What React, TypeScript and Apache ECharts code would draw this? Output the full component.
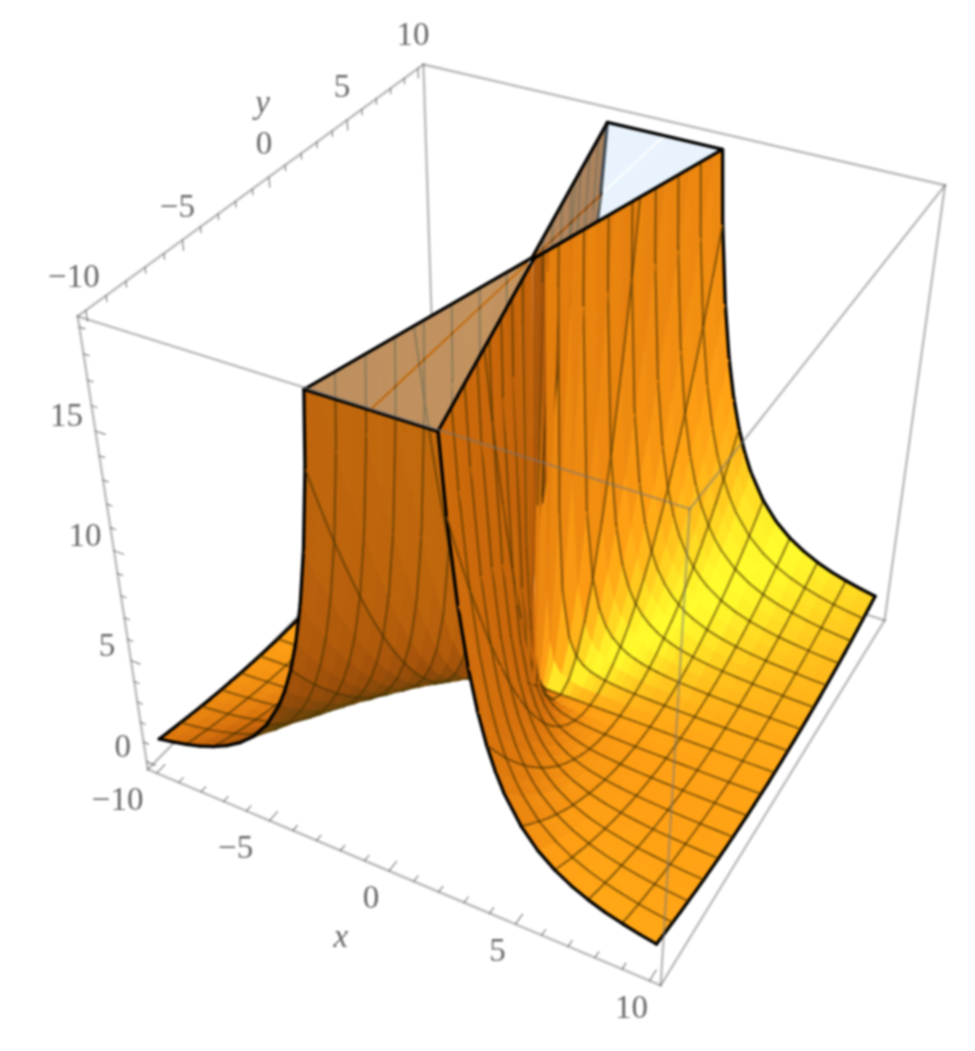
import React, { useEffect, useRef } from "react";
import * as echarts from "echarts";

// ---- data ----
const xNodes = [0.08, 0.15, 0.3, 0.45, 0.625, 0.9375, 1.25, 1.5625, 1.875, 2.1875, 2.5, 2.8125, 3.125, 3.4375, 3.75, 4.0625, 4.375, 5, 5.625, 6.25, 6.875, 7.5, 8.125, 8.75, 9.375, 10];
const yNodes = [0, 0.625, 1.25, 1.875, 2.5, 3.125, 3.75, 4.375, 5, 5.625, 6.25, 6.875, 7.5, 8.125, 8.75, 9.375, 10];
const zRows = [
  [0, 0, 0, 0, 0, 0, 0, 0, 0, 0, 0, 0, 0, 0, 0, 0, 0, 0, 0, 0, 0, 0, 0, 0, 0, 0],
  [61, 17.36, 4.34, 1.93, 1, 0.44, 0.25, 0.16, 0.11, 0.08, 0.06, 0.05, 0.04, 0.03, 0.03, 0.02, 0.02, 0.02, 0.01, 0.01, 0.01, 0.01, 0.01, 0.01, 0, 0],
  [244, 69.4, 17.36, 7.72, 4, 1.78, 1, 0.64, 0.44, 0.33, 0.25, 0.2, 0.16, 0.13, 0.11, 0.09, 0.08, 0.06, 0.05, 0.04, 0.03, 0.03, 0.02, 0.02, 0.02, 0.02],
  [549, 156, 39.1, 17.36, 9, 4, 2.25, 1.44, 1, 0.73, 0.56, 0.44, 0.36, 0.3, 0.25, 0.21, 0.18, 0.14, 0.11, 0.09, 0.07, 0.06, 0.05, 0.05, 0.04, 0.04],
  [977, 278, 69.4, 30.9, 16, 7.11, 4, 2.56, 1.78, 1.31, 1, 0.79, 0.64, 0.53, 0.44, 0.38, 0.33, 0.25, 0.2, 0.16, 0.13, 0.11, 0.09, 0.08, 0.07, 0.06],
  [1526, 434, 108.5, 48.2, 25, 11.1, 6.25, 4, 2.78, 2.04, 1.56, 1.23, 1, 0.83, 0.69, 0.59, 0.51, 0.39, 0.31, 0.25, 0.21, 0.17, 0.15, 0.13, 0.11, 0.1],
  [2197, 625, 156, 69.4, 36, 16, 9, 5.76, 4, 2.94, 2.25, 1.78, 1.44, 1.19, 1, 0.85, 0.73, 0.56, 0.44, 0.36, 0.3, 0.25, 0.21, 0.18, 0.16, 0.14],
  [2990, 851, 213, 94.5, 49, 21.8, 12.25, 7.84, 5.44, 4, 3.06, 2.42, 1.96, 1.62, 1.36, 1.16, 1, 0.77, 0.6, 0.49, 0.4, 0.34, 0.29, 0.25, 0.22, 0.19],
  [3906, 1111, 278, 123, 64, 28.4, 16, 10.24, 7.11, 5.22, 4, 3.16, 2.56, 2.12, 1.78, 1.51, 1.31, 1, 0.79, 0.64, 0.53, 0.44, 0.38, 0.33, 0.28, 0.25],
  [4944, 1406, 352, 156, 81, 36, 20.25, 12.96, 9, 6.61, 5.06, 4, 3.24, 2.68, 2.25, 1.92, 1.65, 1.27, 1, 0.81, 0.67, 0.56, 0.48, 0.41, 0.36, 0.32],
  [6104, 1736, 434, 193, 100, 44.4, 25, 16, 11.1, 8.16, 6.25, 4.94, 4, 3.3, 2.78, 2.37, 2.04, 1.56, 1.23, 1, 0.83, 0.69, 0.59, 0.51, 0.44, 0.39],
  [7385, 2101, 525, 233, 121, 53.8, 30.25, 19.36, 13.44, 9.88, 7.56, 5.97, 4.84, 4, 3.36, 2.86, 2.47, 1.89, 1.49, 1.21, 1, 0.84, 0.72, 0.62, 0.54, 0.47],
  [8789, 2500, 625, 278, 144, 64, 36, 23.04, 16, 11.76, 9, 7.11, 5.76, 4.76, 4, 3.41, 2.94, 2.25, 1.78, 1.44, 1.19, 1, 0.85, 0.73, 0.64, 0.56],
  [10315, 2934, 734, 326, 169, 75.1, 42.25, 27.04, 18.78, 13.8, 10.56, 8.35, 6.76, 5.59, 4.69, 4, 3.45, 2.64, 2.09, 1.69, 1.4, 1.17, 1, 0.86, 0.75, 0.66],
  [11963, 3403, 851, 378, 196, 87.1, 49, 31.36, 21.78, 16, 12.25, 9.68, 7.84, 6.48, 5.44, 4.64, 4, 3.06, 2.42, 1.96, 1.62, 1.36, 1.16, 1, 0.87, 0.77],
  [13733, 3906, 977, 434, 225, 100, 56.25, 36, 25, 18.37, 14.06, 11.11, 9, 7.44, 6.25, 5.33, 4.59, 3.52, 2.78, 2.25, 1.86, 1.56, 1.33, 1.15, 1, 0.88],
  [15625, 4444, 1111, 494, 256, 113.8, 64, 40.96, 28.44, 20.9, 16, 12.64, 10.24, 8.46, 7.11, 6.06, 5.22, 4, 3.16, 2.56, 2.12, 1.78, 1.51, 1.31, 1.14, 1],
];
const meshStep = 1.25;
const zClip = 19;
const plateauHalfWidth = 2.3;
const xLabels = [-10, -5, 0, 5, 10];
const yLabels = [-10, -5, 0, 5, 10];
const zLabels = [0, 5, 10, 15];
const xyMinorTicks = [-10, -9, -8, -7, -6, -5, -4, -3, -2, -1, 0, 1, 2, 3, 4, 5, 6, 7, 8, 9, 10];
const zMinorTicks = [0, 1, 2, 3, 4, 5, 6, 7, 8, 9, 10, 11, 12, 13, 14, 15, 16, 17, 18, 19];

// box range and where its corners fall on the page
const RX: [number, number] = [-10.4, 10.4];
const RZ: [number, number] = [-0.4, 19.4];
const corners: [number, number, number, number, number][] = [
  [0, 0, 0, 148, 770],
  [1, 0, 0, 660, 985],
  [1, 1, 0, 885, 620],
  [0, 0, 1, 78, 315],
  [0, 1, 1, 423, 65],
  [1, 0, 1, 690, 510],
  [1, 1, 1, 945, 185],
];

function solveCamera(): number[] {
  const rowsA: number[][] = [];
  const rhs: number[] = [];
  for (const [u, v, t, px, py] of corners) {
    rowsA.push([u, v, t, 1, 0, 0, 0, 0, -px * u, -px * v, -px * t]);
    rhs.push(px);
    rowsA.push([0, 0, 0, 0, u, v, t, 1, -py * u, -py * v, -py * t]);
    rhs.push(py);
  }
  const n = 11;
  const M: number[][] = [];
  for (let i = 0; i < n; i++) {
    const r = new Array(n + 1).fill(0);
    for (let k = 0; k < rowsA.length; k++) {
      for (let j = 0; j < n; j++) r[j] += rowsA[k][i] * rowsA[k][j];
      r[n] += rowsA[k][i] * rhs[k];
    }
    M.push(r);
  }
  for (let i = 0; i < n; i++) {
    let best = i;
    for (let k = i + 1; k < n; k++) if (Math.abs(M[k][i]) > Math.abs(M[best][i])) best = k;
    [M[i], M[best]] = [M[best], M[i]];
    for (let k = 0; k < n; k++) {
      if (k === i) continue;
      const f = M[k][i] / M[i][i];
      for (let j = i; j <= n; j++) M[k][j] -= f * M[i][j];
    }
  }
  return M.map((r, i) => r[n] / r[i]);
}
const cam = solveCamera();

type P3 = [number, number, number];
function project(p: P3): [number, number, number] {
  const u = (p[0] - RX[0]) / (RX[1] - RX[0]);
  const v = (p[1] - RX[0]) / (RX[1] - RX[0]);
  const t = (p[2] - RZ[0]) / (RZ[1] - RZ[0]);
  const w = cam[8] * u + cam[9] * v + cam[10] * t + 1;
  return [
    (cam[0] * u + cam[1] * v + cam[2] * t + cam[3]) / w,
    (cam[4] * u + cam[5] * v + cam[6] * t + cam[7]) / w,
    w,
  ];
}

// view frame of the box (scaled box coordinates)
const vR: P3 = [0.887, 0.46, 0.019];
const vU: P3 = [-0.27, 0.49, 0.82];
const vF: P3 = [0.37, -0.74, 0.56];
const H: P3 = [0.3, 0.3, 0.9];
const dot = (a: P3, b: P3) => a[0] * b[0] + a[1] * b[1] + a[2] * b[2];
const toS = (p: P3): P3 => [p[0] / 20.8, p[1] / 20.8, (p[2] * 0.86) / 19.8];

function shade(ns: P3[]): string {
  let n: P3 = [0, 0, 0];
  for (const m of ns) n = [n[0] + m[0], n[1] + m[1], n[2] + m[2]];
  const len = Math.hypot(n[0], n[1], n[2]) || 1;
  n = [n[0] / len, n[1] / len, n[2] / len];
  let under = 1;
  if (dot(n, vF) < 0) {
    n = [-n[0], -n[1], -n[2]];
    under = 0.88;
  }
  const nv: P3 = [dot(n, vR), dot(n, vU), dot(n, vF)];
  const s = Math.max(0, dot(nv, H));
  const R = 255 * under * Math.min(1, 0.45 + 0.75 * s);
  const G = 255 * under * (0.31 + 0.69 * Math.pow(s, 2.5));
  const Bl = 255 * (0.04 + 0.14 * Math.pow(s, 4));
  return `rgb(${R | 0},${G | 0},${Bl | 0})`;
}

type Seg = { a: P3; b: P3; bound: boolean };
type Poly = { pts: P3[]; fill: string; segs: Seg[]; w: number };

function lerp(a: P3, b: P3): P3 {
  const k = (zClip - a[2]) / (b[2] - a[2]);
  return [a[0] + (b[0] - a[0]) * k, a[1] + (b[1] - a[1]) * k, zClip];
}
function clipPoly(pts: P3[]): P3[] {
  const out: P3[] = [];
  for (let i = 0; i < pts.length; i++) {
    const a = pts[i], b = pts[(i + 1) % pts.length];
    const ia = a[2] <= zClip, ib = b[2] <= zClip;
    if (ia) out.push(a);
    if (ia !== ib) out.push(lerp(a, b));
  }
  return out;
}
function clipSeg(a: P3, b: P3): [P3, P3] | null {
  const ia = a[2] <= zClip, ib = b[2] <= zClip;
  if (!ia && !ib) return null;
  if (ia && ib) return [a, b];
  return ia ? [a, lerp(a, b)] : [lerp(a, b), b];
}
const onMesh = (v: number) => Math.abs(v / meshStep - Math.round(v / meshStep)) < 1e-6;

function buildSurface(): Poly[] {
  const polys: Poly[] = [];
  const ys: number[] = [];
  const yIdx: number[] = [];
  for (let j = yNodes.length - 1; j > 0; j--) { ys.push(-yNodes[j]); yIdx.push(j); }
  for (let j = 0; j < yNodes.length; j++) { ys.push(yNodes[j]); yIdx.push(j); }
  for (const sx of [-1, 1]) {
    const p = (ii: number, jj: number): P3 => [sx * xNodes[ii], ys[jj], zRows[yIdx[jj]][ii]];
    const grad = (zx: number, zy: number): P3 => {
      const l = Math.hypot(zx, zy, 1);
      return [-zx / l, -zy / l, 1 / l];
    };
    const normal = (ii: number, jj: number): P3 => {
      const a = toS(p(Math.max(0, ii - 1), jj)), b = toS(p(Math.min(xNodes.length - 1, ii + 1), jj));
      const c = toS(p(ii, Math.max(0, jj - 1))), d = toS(p(ii, Math.min(ys.length - 1, jj + 1)));
      return grad((b[2] - a[2]) / (b[0] - a[0]), (d[2] - c[2]) / (d[1] - c[1]));
    };
    const faceNormal = (a: P3, b: P3, c: P3, d: P3): P3 => {
      const A = toS(a), B = toS(b), C = toS(c), D = toS(d);
      return grad(
        (B[2] + C[2] - A[2] - D[2]) / 2 / (B[0] - A[0]),
        (C[2] + D[2] - A[2] - B[2]) / 2 / (D[1] - A[1])
      );
    };
    for (let i = 0; i < xNodes.length - 1; i++) {
      for (let j = 0; j < ys.length - 1; j++) {
        const a = p(i, j), b = p(i + 1, j), c = p(i + 1, j + 1), d = p(i, j + 1);
        const pts = clipPoly([a, b, c, d]);
        if (pts.length < 3) continue;
        const segs: Seg[] = [];
        const add = (q: P3, r: P3, bound: boolean) => {
          const s = clipSeg(q, r);
          if (s) segs.push({ a: s[0], b: s[1], bound });
        };
        const x0 = xNodes[i], x1 = xNodes[i + 1], y0 = ys[j], y1 = ys[j + 1];
        if (onMesh(x0)) add(a, d, false);
        if (x1 === 10) add(b, c, true);
        else if (onMesh(x1)) add(b, c, false);
        if (Math.abs(y0) === 10) add(a, b, true);
        else if (onMesh(y0)) add(a, b, false);
        if (Math.abs(y1) === 10) add(d, c, true);
        else if (onMesh(y1)) add(d, c, false);
        let w = 0;
        for (const q of pts) w += project(q)[2];
        // the crease along y = 0 beside the wall must stay sharp, not averaged
        const crease = x0 < 2.5 && Math.abs(y0) <= 1.25 && Math.abs(y1) <= 1.25;
        const fill = crease
          ? shade([faceNormal(a, b, c, d)])
          : shade([normal(i, j), normal(i + 1, j), normal(i + 1, j + 1), normal(i, j + 1)]);
        polys.push({ pts, fill, segs, w: w / pts.length });
      }
    }
  }
  polys.sort((m, n) => n.w - m.w);
  return polys;
}
const surface = buildSurface();

const seam = 0.04;
const plateaus: P3[][] = [];
for (const sx of [-1, 1]) for (const sy of [-1, 1]) {
  plateaus.push([
    [sx * seam, 0, zClip],
    [sx * seam, sy * 10, zClip],
    [sx * plateauHalfWidth, sy * 10, zClip],
  ]);
}

const [x0, x1] = RX;
const [z0, z1] = RZ;
const backEdges: [P3, P3][] = [
  [[x0, x0, z1], [x0, x1, z1]],
  [[x0, x1, z1], [x1, x1, z1]],
  [[x0, x1, z1], [x0, x1, z0]],
  [[x0, x0, z0], [x0, x1, z0]],
  [[x0, x1, z0], [x1, x1, z0]],
];
const frontEdges: [P3, P3][] = [
  [[x0, x0, z0], [x1, x0, z0]],
  [[x1, x0, z0], [x1, x1, z0]],
  [[x1, x1, z0], [x1, x1, z1]],
  [[x0, x0, z0], [x0, x0, z1]],
  [[x0, x0, z1], [x1, x0, z1]],
  [[x1, x0, z1], [x1, x1, z1]],
  [[x1, x0, z1], [x1, x0, z0]],
];

const LINE = "rgba(120,120,120,0.5)";
const TICK = "rgba(100,100,100,0.8)";
const LABEL = "#666666";
const FONT = "'Liberation Serif', serif";
const fmt = (v: number) => (v < 0 ? "\u2212" + Math.abs(v) : String(v));

function App() {
  const ref = useRef<HTMLDivElement>(null);
  useEffect(() => {
    document.body.style.margin = "0";
    const chart = echarts.init(ref.current!, null, { renderer: "svg" });
    const xy = (api: any, p: P3) => {
      const q = project(p);
      return api.coord([q[0], q[1]]);
    };
    const line2 = (api: any, a: P3, b: P3, stroke: string, lineWidth: number) => ({
      type: "polyline",
      silent: true,
      shape: { points: [xy(api, a), xy(api, b)] },
      style: { stroke, lineWidth, fill: "none", lineCap: "round" },
    });
    const text = (api: any, p: P3, dx: number, dy: number, s: string, italic = false) => {
      const c = xy(api, p);
      return {
        type: "text",
        silent: true,
        x: c[0] + dx,
        y: c[1] + dy,
        style: {
          text: s, fill: LABEL, fontFamily: FONT, fontSize: 33,
          fontStyle: italic ? "italic" : "normal",
          align: "center", verticalAlign: "middle",
        },
      };
    };
    const edgeSeries = (edges: [P3, P3][]) => ({
      type: "custom",
      coordinateSystem: "cartesian2d",
      clip: false,
      silent: true,
      encode: { x: 0, y: 1 },
      data: edges.map((e, i) => [project(e[0])[0], project(e[0])[1], i]),
      renderItem: (_: any, api: any) => {
        const e = edges[api.value(2)];
        return line2(api, e[0], e[1], LINE, 2.4);
      },
    });
    chart.setOption({
      animation: false,
      grid: { left: 0, top: 0, right: 0, bottom: 0 },
      xAxis: { type: "value", min: 0, max: 975, show: false },
      yAxis: { type: "value", min: 0, max: 1051, inverse: true, show: false },
      series: [
        edgeSeries(backEdges),
        {
          type: "custom",
          coordinateSystem: "cartesian2d",
          clip: false,
          silent: true,
          encode: { x: 0, y: 1 },
          data: surface.map((s, i) => {
            const c = project(s.pts[0]);
            return [c[0], c[1], i];
          }),
          renderItem: (_: any, api: any) => {
            const s = surface[api.value(2)];
            const children: any[] = [
              {
                type: "polygon",
                silent: true,
                shape: { points: s.pts.map((p) => xy(api, p)) },
                style: { fill: s.fill, stroke: s.fill, lineWidth: 0.8 },
              },
            ];
            for (const g of s.segs) {
              children.push(
                g.bound
                  ? line2(api, g.a, g.b, "#000", 3.3)
                  : line2(api, g.a, g.b, "rgba(70,50,0,0.5)", 2)
              );
            }
            return { type: "group", children };
          },
        },
        {
          type: "custom",
          coordinateSystem: "cartesian2d",
          clip: false,
          silent: true,
          encode: { x: 0, y: 1 },
          data: plateaus.map((t, i) => [project(t[0])[0], project(t[0])[1], i]),
          renderItem: (_: any, api: any) => {
            const t = plateaus[api.value(2)];
            return {
              type: "group",
              children: [
                {
                  type: "polygon",
                  silent: true,
                  shape: { points: t.map((p) => xy(api, p)) },
                  style: { fill: "rgba(189,221,249,0.35)" },
                },
                line2(api, t[0], t[2], "#000", 3.3),
                line2(api, t[1], t[2], "#000", 3.3),
              ],
            };
          },
        },
        edgeSeries(frontEdges),
        {
          type: "custom",
          coordinateSystem: "cartesian2d",
          clip: false,
          silent: true,
          encode: { x: 0, y: 1 },
          data: [[0, 0, 0]],
          renderItem: (_: any, api: any) => {
            const kids: any[] = [];
            for (const v of xyMinorTicks) {
              const maj = xLabels.includes(v);
              kids.push(line2(api, [v, x0, z0], [v, x0 + (maj ? 0.5 : 0.28), z0], TICK, 1.2));
              kids.push(line2(api, [x0, v, z1], [x0, v, z1 - (maj ? 0.4 : 0.22)], TICK, 1.2));
            }
            for (const v of zMinorTicks) {
              const maj = zLabels.includes(v);
              kids.push(line2(api, [x0, x0, v], [x0 + (maj ? 0.4 : 0.22), x0, v], TICK, 1.2));
            }
            for (const v of xLabels) kids.push(text(api, [v, x0, z0], v === -10 ? -39 : v < 0 ? -34 : -18, 26, fmt(v)));
            for (const v of yLabels) kids.push(text(api, [x0, v, z1], v === -10 ? -12 : -5, -34, fmt(v)));
            for (const v of zLabels) kids.push(text(api, [x0, x0, v], v >= 10 ? -29 : -24, -16, fmt(v)));
            kids.push(text(api, [-0.5, x0, z0], -36, 70, "x", true));
            kids.push(text(api, [x0, -0.5, z1], 2, -81, "y", true));
            return { type: "group", children: kids };
          },
        },
      ],
    });
    return () => chart.dispose();
  }, []);
  return <div ref={ref} style={{ width: 975, height: 1051, filter: "blur(0.8px)" }} />;
}

export default App;
